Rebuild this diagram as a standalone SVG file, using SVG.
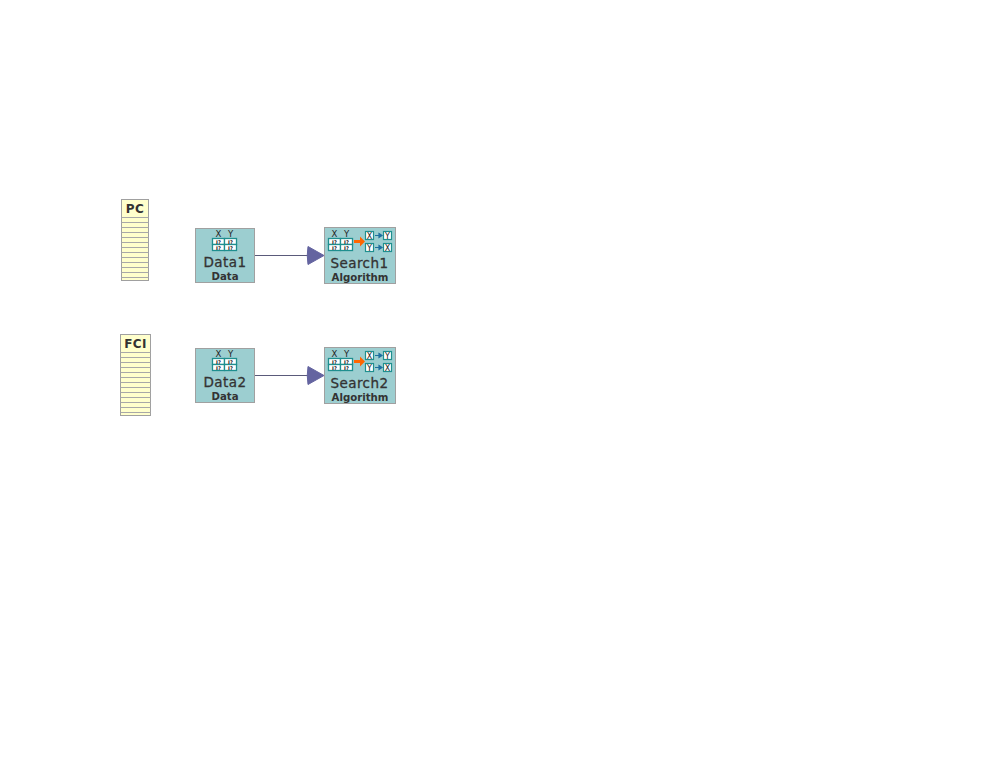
<svg xmlns="http://www.w3.org/2000/svg" xmlns:xlink="http://www.w3.org/1999/xlink" width="999" height="776" viewBox="0 0 999 776">
<style>
text{font-family:"DejaVu Sans",sans-serif;fill:#333;text-anchor:middle}
.box{fill:#9cced0;stroke:#a0a0a0;stroke-width:1}
.note{fill:#ffffcc;stroke:#a0a0a0;stroke-width:1}
.row{stroke:#a8a8a8;stroke-width:1;fill:none}
.title{font-size:13.5px;letter-spacing:.4px;stroke:#333;stroke-width:.3px}
.sub{font-size:10.2px;font-weight:bold}
.nt{font-size:12px;font-weight:bold;letter-spacing:.4px}
.hd{font-size:8.5px;fill:#222}
.q{font-size:5px;font-weight:bold;fill:#111}
.cell{fill:#fff;stroke:#1f8f8f;stroke-width:1.300}
.v{fill:#fff;stroke:#1f8f8f;stroke-width:1.200}
.conn{stroke:#5a5a7a;stroke-width:1;fill:none}
.head{fill:#6464a0;stroke:#6464a0;stroke-width:1}
.vt{font-size:8px;fill:#222}
</style>
<defs>
<g id="table">
<text class="hd" x="6.500" y="7">X</text><text class="hd" x="18.500" y="7">Y</text>
<rect class="cell" x="0.500" y="8.500" width="12" height="6"/><rect class="cell" x="12.500" y="8.500" width="12" height="6"/>
<rect class="cell" x="0.500" y="14.500" width="12" height="6"/><rect class="cell" x="12.500" y="14.500" width="12" height="6"/>
<text class="q" x="6.500" y="13.500">I?</text><text class="q" x="18.500" y="13.500">I?</text>
<text class="q" x="6.500" y="19.500">I?</text><text class="q" x="18.500" y="19.500">I?</text>
</g>
<g id="algo">
<use xlink:href="#table" href="#table" x="3" y="2"/>
<path d="M29 12h6v-3.500l5 5-5 5v-3.500h-6z" fill="#ff6600"/>
<rect class="v" x="40.500" y="3.500" width="8" height="8"/><text class="vt" x="44.500" y="10.500">X</text>
<rect class="v" x="58.500" y="3.500" width="8" height="8"/><text class="vt" x="62.500" y="10.500">Y</text>
<rect class="v" x="40.500" y="15.500" width="8" height="8"/><text class="vt" x="44.500" y="22.500">Y</text>
<rect class="v" x="58.500" y="15.500" width="8" height="8"/><text class="vt" x="62.500" y="22.500">X</text>
<path d="M50 7.500h6M54 5.500l3 2-3 2zM50 19.500h6M54 17.500l3 2-3 2z" fill="#1f6f9f" stroke="#1f6f9f" stroke-width="1.200"/>
</g>
</defs>
<g id="connectors">
<line class="conn" x1="254.500" y1="255.500" x2="308" y2="255.500"/>
<path class="head" d="M308 246.500L324 255.500L308 264.500Q306.500 255.500 308 246.500Z"/>
<line class="conn" x1="254.500" y1="375.500" x2="308" y2="375.500"/>
<path class="head" d="M308 366.500L324 375.500L308 384.500Q306.500 375.500 308 366.500Z"/>
</g>
<g id="note-pc">
<rect class="note" x="121.500" y="199.500" width="27" height="81"/>
<path class="row" d="M121.500 217.500h27M121.500 222.500h27M121.500 227.500h27M121.500 232.500h27M121.500 237.500h27M121.500 242.500h27M121.500 247.500h27M121.500 252.500h27M121.500 257.500h27M121.500 262.500h27M121.500 267.500h27M121.500 272.500h27M121.500 277.500h27"/>
<text class="nt" x="135" y="213">PC</text>
</g>
<g id="note-fci">
<rect class="note" x="120.500" y="334.500" width="30" height="81"/>
<path class="row" d="M120.500 352.500h30M120.500 357.500h30M120.500 362.500h30M120.500 367.500h30M120.500 372.500h30M120.500 377.500h30M120.500 382.500h30M120.500 387.500h30M120.500 392.500h30M120.500 397.500h30M120.500 402.500h30M120.500 407.500h30M120.500 412.500h30"/>
<text class="nt" x="135.500" y="348">FCI</text>
</g>
<g id="data1">
<rect class="box" x="195.500" y="228.500" width="59" height="54"/>
<use xlink:href="#table" href="#table" x="212" y="230"/>
<text class="title" x="225" y="267">Data1</text>
<text class="sub" x="225" y="280">Data</text>
</g>
<g id="search1">
<rect class="box" x="324.500" y="227.500" width="71" height="56"/>
<use xlink:href="#algo" href="#algo" x="325" y="228"/>
<text class="title" x="359.500" y="268">Search1</text>
<text class="sub" x="360" y="281">Algorithm</text>
</g>
<g id="data2">
<rect class="box" x="195.500" y="348.500" width="59" height="54"/>
<use xlink:href="#table" href="#table" x="212" y="350"/>
<text class="title" x="225" y="387">Data2</text>
<text class="sub" x="225" y="400">Data</text>
</g>
<g id="search2">
<rect class="box" x="324.500" y="347.500" width="71" height="56"/>
<use xlink:href="#algo" href="#algo" x="325" y="348"/>
<text class="title" x="359.500" y="388">Search2</text>
<text class="sub" x="360" y="401">Algorithm</text>
</g>
</svg>
